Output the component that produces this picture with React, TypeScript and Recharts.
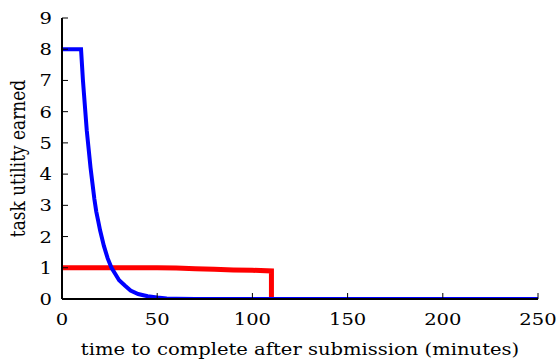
import React from 'react';
import { LineChart, Line, XAxis, YAxis } from 'recharts';

const blueX = [0, 10, 10.5, 11, 11.5, 12, 13, 14, 15, 16, 17, 18, 19, 20, 22, 24, 26, 28, 30, 33, 36, 40, 45, 50, 55, 60, 70, 250];
const blueY = [8, 8, 7.5, 7.0, 6.6, 6.2, 5.4, 4.8, 4.2, 3.7, 3.2, 2.8, 2.5, 2.2, 1.7, 1.3, 1.0, 0.8, 0.6, 0.43, 0.27, 0.16, 0.09, 0.05, 0.02, 0.01, 0, 0];
const redX = [0, 50, 60, 70, 80, 90, 100, 110, 110];
const redY = [1, 1, 0.99, 0.97, 0.95, 0.93, 0.92, 0.9, 0];
const xTicks = [0, 50, 100, 150, 200, 250];
const yTicks = [0, 1, 2, 3, 4, 5, 6, 7, 8, 9];
const xLabel = 'time to complete after submission (minutes)';
const yLabel = 'task utility earned';

const blueData = blueX.map((x, i) => ({ x, y: blueY[i] }));
const redData = redX.map((x, i) => ({ x, y: redY[i] }));

const FONT = 'DejaVu Serif';
const FS = 17;
const SX = 1.15;

const XTick = (props: any) => {
  const { x, y, payload } = props;
  return (
    <g transform={`translate(${x},${y + 12}) scale(${SX},1)`}>
      <text x={0} y={0} textAnchor="middle" fill="#000" fontSize={FS} fontFamily={FONT}>
        {payload.value}
      </text>
    </g>
  );
};

const YTick = (props: any) => {
  const { x, y, payload } = props;
  return (
    <g transform={`translate(${x},${y + 6}) scale(${SX},1)`}>
      <text x={0} y={0} textAnchor="end" fill="#000" fontSize={FS} fontFamily={FONT}>
        {payload.value}
      </text>
    </g>
  );
};

const XLabel = (props: any) => {
  const vb = props.viewBox || {};
  const cx = vb.x + vb.width / 2;
  const by = vb.y + 56;
  return (
    <g transform={`translate(${cx},${by}) scale(${SX},1)`}>
      <text x={0} y={0} textAnchor="middle" fill="#000" fontSize={FS} fontFamily={FONT}>
        {xLabel}
      </text>
    </g>
  );
};

const YLabel = (props: any) => {
  const vb = props.viewBox || {};
  const cy = vb.y + vb.height / 2;
  return (
    <g transform={`translate(25,${cy}) scale(${SX},1) rotate(-90)`}>
      <text x={0} y={0} textAnchor="middle" fill="#000" fontSize={FS} fontFamily={FONT}>
        {yLabel}
      </text>
    </g>
  );
};

const Empty = () => <g />;

export default function App() {
  const axisLine = { stroke: '#000', strokeWidth: 2 };
  const tickLine = { stroke: '#000', strokeWidth: 1 };
  return (
    <div style={{ position: 'absolute', left: 0, top: 0, width: 556, height: 360, background: '#fff' }}>
      <LineChart width={556} height={360} margin={{ top: 18, right: 18, left: 0, bottom: 0 }}>
        <XAxis
          xAxisId="b"
          dataKey="x"
          type="number"
          domain={[0, 250]}
          ticks={xTicks}
          allowDataOverflow
          height={61}
          tickSize={-6}
          tickMargin={20}
          tick={<XTick />}
          axisLine={axisLine}
          tickLine={tickLine}
          label={<XLabel />}
        />
        <XAxis
          xAxisId="t"
          orientation="top"
          dataKey="x"
          type="number"
          domain={[0, 250]}
          ticks={xTicks}
          height={0}
          tickSize={-6}
          tick={<Empty />}
          axisLine={axisLine}
          tickLine={tickLine}
        />
        <YAxis
          yAxisId="l"
          type="number"
          domain={[0, 9]}
          ticks={yTicks}
          allowDataOverflow
          width={62}
          tickSize={-6}
          tickMargin={16}
          tick={<YTick />}
          axisLine={axisLine}
          tickLine={tickLine}
          label={<YLabel />}
        />
        <YAxis
          yAxisId="r"
          orientation="right"
          type="number"
          domain={[0, 9]}
          ticks={yTicks}
          width={0}
          tickSize={-6}
          tick={<Empty />}
          axisLine={axisLine}
          tickLine={tickLine}
        />
        <Line xAxisId="b" yAxisId="l" data={redData} dataKey="y" type="linear" stroke="#ff0000" strokeWidth={5} dot={false} isAnimationActive={false} />
        <Line xAxisId="b" yAxisId="l" data={blueData} dataKey="y" type="linear" stroke="#0000ff" strokeWidth={4} dot={false} isAnimationActive={false} />
      </LineChart>
    </div>
  );
}
